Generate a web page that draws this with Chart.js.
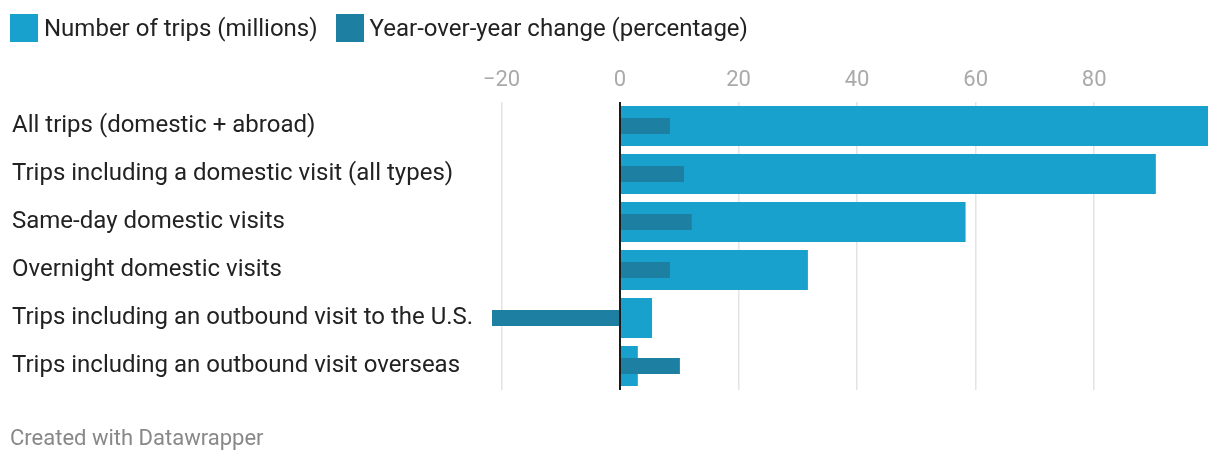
<!DOCTYPE html>
<html>
<head>
<meta charset="utf-8">
<script src="https://cdn.jsdelivr.net/npm/chart.js@4"></script>
<style>
  html, body { margin: 0; padding: 0; background: #fff; }
  body { width: 1220px; height: 462px; position: relative; overflow: hidden; font-family: Roboto, sans-serif; }
  #legend { position: absolute; left: 10px; top: 14px; height: 28px; display: flex; align-items: center; font-size: 24px; color: #222; line-height: 28px; }
  .item { display: flex; align-items: center; margin-right: 18px; }
  .sw { width: 28px; height: 28px; margin-right: 6px; }
  #wrap { position: absolute; left: 0; top: 0; width: 1220px; height: 462px; }
  #footer { position: absolute; left: 10px; top: 426px; font-size: 22px; line-height: 24px; color: #888; }
</style>
</head>
<body>
<div id="wrap"><canvas id="c"></canvas></div>
<div id="legend"></div>
<div id="footer">Created with Datawrapper</div>
<script>
const categories = [
  "All trips (domestic + abroad)",
  "Trips including a domestic visit (all types)",
  "Same-day domestic visits",
  "Overnight domestic visits",
  "Trips including an outbound visit to the U.S.",
  "Trips including an outbound visit overseas"
];
const trips = [99.2, 90.4, 58.3, 31.7, 5.4, 3.0];
const yoyChange = [8.4, 10.8, 12.1, 8.4, -21.6, 10.1];
const tickValues = [-20, 0, 20, 40, 60, 80];
const seriesNames = ["Number of trips (millions)", "Year-over-year change (percentage)"];
const colors = ["#19a1cd", "#1d7fa1"];

const legend = document.getElementById('legend');
seriesNames.forEach((n, i) => {
  const it = document.createElement('div'); it.className = 'item';
  const sw = document.createElement('div'); sw.className = 'sw'; sw.style.background = colors[i];
  const tx = document.createElement('span'); tx.textContent = n;
  it.appendChild(sw); it.appendChild(tx); legend.appendChild(it);
});

new Chart(document.getElementById('c'), {
  type: 'bar',
  data: {
    labels: categories,
    datasets: [
      { label: seriesNames[0], data: trips, backgroundColor: colors[0], barPercentage: 40/48, categoryPercentage: 1, grouped: false, order: 2 },
      { label: seriesNames[1], data: yoyChange, backgroundColor: colors[1], barPercentage: 16/48, categoryPercentage: 1, grouped: false, order: 1 }
    ]
  },
  options: {
    indexAxis: 'y',
    responsive: true,
    maintainAspectRatio: false,
    animation: false,
    layout: { padding: { left: 12, right: 12, top: 60, bottom: 72 } },
    plugins: { legend: { display: false }, tooltip: { enabled: false } },
    scales: {
      x: {
        position: 'top',
        min: Math.min(...yoyChange),
        max: Math.max(...trips),
        afterBuildTicks: (s) => { s.ticks = tickValues.map(v => ({ value: v })); },
        afterFit: (s) => { s.height = 42; },
        border: { display: false },
        grid: {
          drawTicks: false,
          color: (ctx) => ctx.tick && ctx.tick.value === 0 ? '#1a1a1a' : '#e3e3e3',
          lineWidth: (ctx) => ctx.tick && ctx.tick.value === 0 ? 2 : 1.5
        },
        ticks: {
          padding: 8,
          color: '#aaaaaa',
          font: { family: 'Roboto', size: 22 },
          callback: (v) => v < 0 ? '\u2212' + Math.abs(v) : String(v)
        }
      },
      y: {
        afterFit: (s) => { s.width = 480; },
        border: { display: false },
        grid: { display: false, drawTicks: false },
        ticks: {
          crossAlign: 'far',
          padding: 0,
          color: '#222222',
          font: { family: 'Roboto', size: 24 }
        }
      }
    }
  }
});
</script>
</body>
</html>
